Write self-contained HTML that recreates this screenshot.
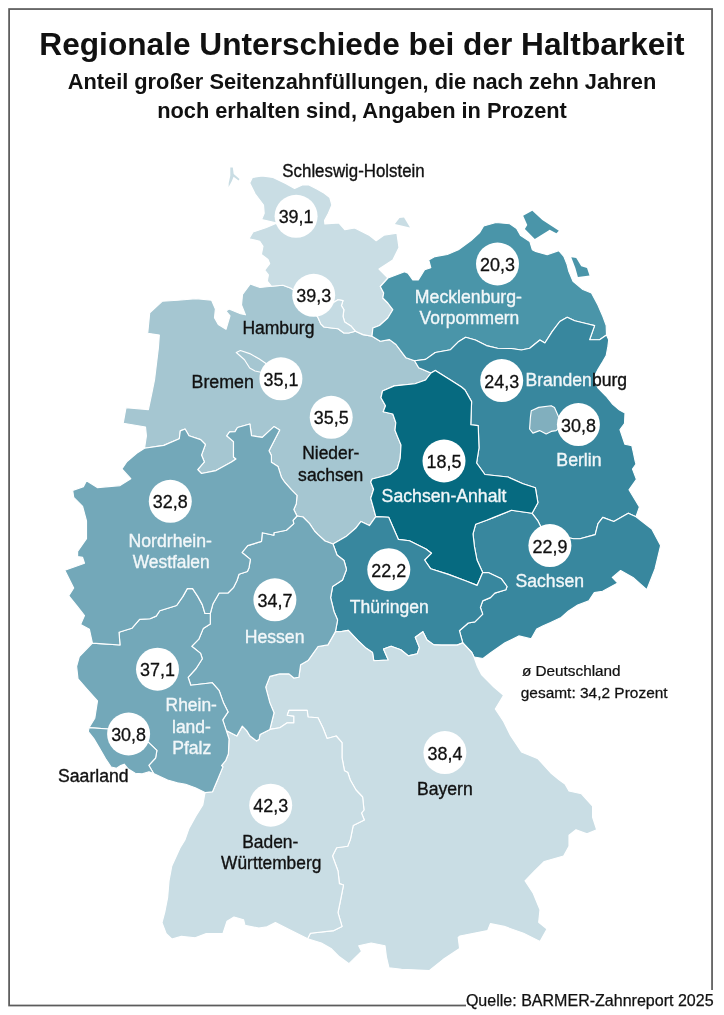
<!DOCTYPE html>
<html lang="de">
<head>
<meta charset="utf-8">
<title>Regionale Unterschiede bei der Haltbarkeit</title>
<style>
html,body{margin:0;padding:0;background:#fff;}
body{width:724px;height:1015px;position:relative;overflow:hidden;font-family:"Liberation Sans",Arial,sans-serif;color:#111;}
.frame{position:absolute;left:8.5px;top:8.5px;width:702.5px;height:996px;border:1.5px solid #505050;box-sizing:border-box;}
h1{position:absolute;left:0;top:25px;width:724px;margin:0;text-align:center;font-size:31.65px;line-height:38px;font-weight:bold;letter-spacing:0;white-space:nowrap;}
.sub{position:absolute;left:0;top:68.4px;width:724px;margin:0;text-align:center;font-size:21.8px;line-height:28.2px;font-weight:bold;white-space:nowrap;}
.src{-webkit-text-stroke:0.25px #111;position:absolute;right:7.4px;top:989.5px;height:25.5px;padding:0 3px 0 0;background:#fff;font-size:16.05px;line-height:20.6px;white-space:nowrap;}
</style>
</head>
<body>
<h1>Regionale Unterschiede bei der Haltbarkeit</h1>
<p class="sub">Anteil großer Seitenzahnfüllungen, die nach zehn Jahren<br>noch erhalten sind, Angaben in Prozent</p>
<svg width="724" height="1015" viewBox="0 0 724 1015" style="position:absolute;left:0;top:0">
<rect x="9.1" y="9.05" width="702.95" height="996.45" fill="none" stroke="#5c5c5c" stroke-width="1.75"/>
<g stroke="#ffffff" stroke-width="1.15" stroke-linejoin="round">
<polygon fill="#a5c6d1" points="144.5,448.3 146.4,435.8 145.5,427 123.2,423.2 126,407.7 148.4,409.6 152.2,391.3 154.5,380 158.4,347.7 159.3,335.1 147.7,333.2 149.7,312.9 162.2,301.3 177.7,300.3 196,298.6 211.6,300.3 215.4,309 214.5,317.7 218.3,324.5 226,329.3 230,315.8 226,311 229,309 240.6,313.8 245.4,314.8 241.5,305 242.5,294.5 250.3,283.9 260,287.5 271.5,286.3 282.9,285.2 291,288.3 295.3,291.4 312,308 318.2,318 320.7,323.8 324,327 331.4,328 338,328.8 343.9,333 348.8,333 355.5,331.3 363,334.6 372,336.2 380.3,341.2 389.5,339.6 396,344.5 406,357.8 414.6,360.8 418.7,367.7 431,373 425.6,380 415,383.7 394.3,385.9 382.5,391 381,397.7 385.5,405.8 383.2,411.8 392.8,414 395.8,422.8 395,430.2 397.3,436.1 401,445 400.2,458.3 397.3,468.6 389.9,474.5 372.2,479 370.7,481.9 373.6,489.3 370.7,498.2 373.6,508.5 375.8,516.6 369.4,525.6 361,521.4 355.6,528.3 346,536.6 333,544 325,541 317.8,534.4 314.5,531 309.6,523.6 303,517 297,516 293.8,509.5 296.3,503.7 297,495.4 291.3,489.6 284.7,482.2 281.4,477.2 278,466.4 271.4,462.3 271.4,455.6 269,450.7 279.7,430 273.9,426.6 262.3,437.4 251.5,435.7 249.9,424 237.5,427.5 235,431.6 229.6,431.9 226.7,435.8 233.5,441.6 233.5,457 236,459 231.5,461.9 216,470.6 201.5,473.5 197.7,469.6 204.4,461.9 201.5,455.1 205.4,444.5 200.6,439.6 189,435.8 185.1,429 180.3,430.9 179.3,438.7 163.8,445.4"/>
<polygon fill="#c9dde4" points="271.5,286.3 267.3,281 268.4,274.9 264.7,270.2 269.7,263.6 268,259.5 261.4,254.5 263,246.2 259.7,241.2 249,238.7 253,232 266.4,227.5 277,223 261.6,219.6 264.2,213.3 263.5,205 255.2,194 249.7,183 252.4,177.4 262.1,176 273.1,177.4 285.6,183.6 294.6,188.5 302.2,185 309,185 317.3,189.2 324.3,193.3 329.8,197.5 331.9,205 328.4,213.3 324.5,220.5 324.9,223.9 339,223 344.8,229.7 354.7,228 369.6,235.5 376.2,240.7 383.8,235.2 396.9,233.1 399,247.6 392.8,260 379,269 388,278 380.3,286.5 383.7,293 382.8,298 387.8,303 392.8,309.7 387.8,318 379.5,325.5 372.9,328 372,336.2 363,334.6 355.5,331.3 351.3,326.3 344.7,322 343,316.4 343.9,309.7 341.4,305.6 343,300.6 338,299.8 334,302.3 322,300 312,308 295.3,291.4 291,288.3 282.9,285.2"/>
<polygon fill="#c5dbe3" points="312,308 318.2,318 320.7,323.8 324,327 331.4,328 338,328.8 343.9,333 348.8,333 355.5,331.3 351.3,326.3 344.7,322 343,316.4 343.9,309.7 341.4,305.6 343,300.6 338,299.8 334,302.3 322,300"/>
<polygon fill="#4a95a9" points="388,278 404.5,271.8 408,273.2 412.8,280 418.3,280 424.6,269.7 430.8,267.7 428.7,260 434.9,256.6 447.3,254.5 458.4,249.7 471,240.5 479.4,232.9 483.6,226 496,222.5 509.8,223.8 516.6,228.5 520.7,235.6 529.8,241.4 532.3,249.7 535.6,251.4 547.2,254.7 558.8,250.6 563.8,256.4 567.1,264.6 568.8,271.3 573,281.2 582.9,289.5 591.5,293 597.9,304.9 602.9,316.5 606.2,325.6 606.5,335 599.6,339.7 589.6,339.7 594.6,325.6 588,324 574.7,320.7 567.2,317.3 559.8,321.5 552.3,331.4 544.9,343 539.9,340 529.7,348.3 521.4,350 511.3,348.5 497.5,348.3 486.4,345.6 475.4,340 465.7,337.3 458.8,341.4 450.5,349.7 435.3,352.5 425.6,359.4 414.6,360.8 406,357.8 396,344.5 389.5,339.6 380.3,341.2 372,336.2 372.9,328 379.5,325.5 387.8,318 392.8,309.7 387.8,303 382.8,298 383.7,293 380.3,286.5"/>
<polygon fill="#38879e" points="606.5,335 608.7,339.7 607.9,346.4 606.2,355.5 602.9,361.3 597.9,369.6 595.4,374.5 594.5,380 597.9,387.8 606,396 612.8,404.4 619.5,410 625,413 624.5,423.5 620,429.7 624.9,444.2 631.8,445.6 633.2,451.8 635.2,461.4 636,464.2 632.5,469 634.6,474.6 636.4,479.4 629,489.8 635.2,500 639.4,507 636,516.7 628.3,513.2 613.8,521.5 602.8,517.4 598,523.6 595.2,534.6 580,538.8 573.6,538.7 555,535 541.2,527.6 537.9,520.9 532.1,513.3 537.9,502.7 535.4,487.8 523,483.7 508,477 484.9,474.5 476.6,463 479,448 478.2,425.6 470.8,424.8 471.6,401.6 465,390 461.5,387 450.5,380 435.3,370.4 431,373 418.7,367.7 414.6,360.8 425.6,359.4 435.3,352.5 450.5,349.7 458.8,341.4 465.7,337.3 475.4,340 486.4,345.6 497.5,348.3 511.3,348.5 521.4,350 529.7,348.3 539.9,340 544.9,343 552.3,331.4 559.8,321.5 567.2,317.3 574.7,320.7 588,324 594.6,325.6 589.6,339.7 599.6,339.7"/>
<polygon fill="#38879e" points="636,516.7 651.8,529 660.6,545.6 655,569 646.8,589.8 633,577.4 620.6,570.5 612.3,577.4 617.8,583 602.6,591.2 594.3,592.6 588.8,600.9 577.7,605 568.5,611 561.2,617.5 550.6,622.5 543.2,625.7 536.7,629 531.2,638.7 518.8,635.9 505,642.8 491,652.5 483,658.5 474,657 471.8,652.5 462.8,642.9 459.4,630.7 468.3,623 474.9,621.9 482.7,614.1 480.4,607.5 482.7,600.9 490.4,597.6 494.8,593.1 505.9,589.8 507,586.5 501.4,578.8 488.2,572.6 482.7,572.6 477,560 474.4,546.3 473,533.9 475.7,524.2 486.6,520.3 493.2,517.6 511.4,510.2 532.1,513.3 537.9,520.9 541.2,527.6 555,535 573.6,538.7 580,538.8 595.2,534.6 598,523.6 602.8,517.4 613.8,521.5 628.3,513.2"/>
<polygon fill="#066a80" points="431,373 435.3,370.4 450.5,380 461.5,387 465,390 471.6,401.6 470.8,424.8 478.2,425.6 479,448 476.6,463 484.9,474.5 508,477 523,483.7 535.4,487.8 537.9,502.7 532.1,513.3 511.4,510.2 493.2,517.6 486.6,520.3 475.7,524.2 473,533.9 474.4,546.3 477,560 482.7,572.6 477.1,585.4 466.1,581 448.4,574.4 430.7,568.8 424.6,560 431.5,553.2 426,549 409.4,540.8 398.4,539.4 388.7,517.3 375.8,516.6 373.6,508.5 370.7,498.2 373.6,489.3 370.7,481.9 372.2,479 389.9,474.5 397.3,468.6 400.2,458.3 401,445 397.3,436.1 395,430.2 395.8,422.8 392.8,414 383.2,411.8 385.5,405.8 381,397.7 382.5,391 394.3,385.9 415,383.7 425.6,380"/>
<polygon fill="#38879e" points="375.8,516.6 388.7,517.3 398.4,539.4 409.4,540.8 426,549 431.5,553.2 424.6,560 430.7,568.8 448.4,574.4 466.1,581 477.1,585.4 482.7,572.6 488.2,572.6 501.4,578.8 507,586.5 505.9,589.8 494.8,593.1 490.4,597.6 482.7,600.9 480.4,607.5 482.7,614.1 474.9,621.9 468.3,623 459.4,630.7 462.8,642.9 457.2,645.1 441.8,645.1 433.9,644.9 427,640 422.9,631.7 415.3,637.3 419.4,647.6 417.3,653.8 408.4,655.9 400.8,649.7 391.1,646.2 383.5,649 388.3,660 373.8,660.7 372.5,652.5 366.2,648.3 358,640.7 348.3,630.4 340,631.7 335.4,631.6 337.6,620 334,611.5 330.6,597.7 332.6,586.6 342.5,580 346.5,569.5 344,560.5 337,555 333,544 346,536.6 355.6,528.3 361,521.4 369.4,525.6"/>
<polygon fill="#c9dde4" points="474,657 477.3,666.3 481.5,674.6 493.9,687 503.6,695.3 495.3,709 503.6,721.5 510.5,735.4 521.5,752 538,758.8 550.6,772.7 559.4,780 565,784 569,791 581.5,793.8 592.6,806.2 592.6,817.3 596.7,829.7 587,833.9 576,829.7 569,835.2 569,846.3 563.6,856 544.3,861.5 534.6,871 525,880.8 533.2,893.3 540,909.8 538.7,922.3 547,929 540,941.6 523.5,933.3 504.2,926.4 490.4,923.6 487.6,930.6 460,936 458.2,937.5 459.6,948.5 443,959.6 429.2,970.6 401.5,969.2 389,967.8 386.4,956.8 385,945.7 371.2,943 358.7,945.7 361.5,951.3 349,963.7 339.4,956.8 331,948.5 321.4,943 307.6,938.8 310.4,933.3 333.9,930.6 342,926.4 338,912.6 340.8,898.8 343.5,885 339.4,883.6 338,871 332.5,856 336.6,847.7 347.7,846.3 350.4,839.4 353.2,825.6 364.3,820 361.5,813 364,810 362.6,797 356,790 350.3,780 347.8,772.5 344.5,770.8 342,757.6 342,742.7 336.2,736 327.1,738.5 322.9,727.7 318,717.8 308,717 307.2,710.3 289,710.3 287.3,715.3 293.9,716.1 293.9,722.8 287.3,722.8 279.8,727.7 269.9,729.4 274,712.8 269.9,702.9 265.7,687.1 269.9,676.4 279.8,673.9 289,673.9 293.9,678 298.9,677.2 300.6,664.8 308,660.6 318,646.5 327.9,644.9 335.4,631.6 340,631.7 348.3,630.4 358,640.7 366.2,648.3 372.5,652.5 373.8,660.7 388.3,660 383.5,649 391.1,646.2 400.8,649.7 408.4,655.9 417.3,653.8 419.4,647.6 415.3,637.3 422.9,631.7 427,640 433.9,644.9 441.8,645.1 457.2,645.1 462.8,642.9 471.8,652.5"/>
<polygon fill="#c9dde4" points="307.6,938.8 305.7,937.8 289.2,929.5 275.4,922.6 267,926.7 258.8,928 245,925.4 243.6,919.8 234,917 227,921.2 222.9,933.6 206.3,933.6 195.2,937.8 181.4,936.4 171.8,939 166.2,933.6 162,922.6 164.9,911.5 167.6,897.7 169,881 171.8,866 180,848 184.9,840 189,828.4 195.9,816 202.8,804.9 205,792.6 212.5,791.8 218,778.7 222.9,766.9 221.5,765.6 225.6,760.7 228.4,753.8 229,739 226.3,730.6 236.9,735.9 242.3,726.1 246.7,730.6 250,736 256.6,741 259.1,739.3 260,734.4 269.9,729.4 279.8,727.7 287.3,722.8 293.9,722.8 293.9,716.1 287.3,715.3 289,710.3 307.2,710.3 308,717 318,717.8 322.9,727.7 327.1,738.5 336.2,736 342,742.7 342,757.6 344.5,770.8 347.8,772.5 350.3,780 356,790 362.6,797 364,810 361.5,813 364.3,820 353.2,825.6 350.4,839.4 347.7,846.3 336.6,847.7 332.5,856 338,871 339.4,883.6 343.5,885 340.8,898.8 338,912.6 342,926.4 333.9,930.6 310.4,933.3"/>
<polygon fill="#73a8b9" points="297,516 303,517 309.6,523.6 314.5,531 317.8,534.4 325,541 333,544 337,555 344,560.5 346.5,569.5 342.5,580 332.6,586.6 330.6,597.7 334,611.5 337.6,620 335.4,631.6 327.9,644.9 318,646.5 308,660.6 300.6,664.8 298.9,677.2 293.9,678 289,673.9 279.8,673.9 269.9,676.4 265.7,687.1 269.9,702.9 274,712.8 269.9,729.4 260,734.4 259.1,739.3 256.6,741 250,736 246.7,730.6 242.3,726.1 236.9,735.9 226.3,730.6 222.7,719.9 228.1,711.9 223.6,703.1 219.2,690.7 212.1,682.7 190.8,685.3 188.1,677.3 196.1,668.5 202.3,658.7 200.6,653.4 191.7,646.3 198.8,639.2 203.2,628.6 210.3,624.1 210.3,613.5 213,603.7 219.2,593 228,593 233.4,587.7 237,580.5 239,574.3 247.4,571.5 249,567.7 250.4,559.4 242,552.5 247.7,545.6 261.5,541.4 262.3,532.7 273.9,535.2 273.9,532.7 286.4,530.2 293.8,523.6 293,520.3"/>
<polygon fill="#73a8b9" points="89,727.6 94.8,718.2 97.5,701 87.6,689.8 78,678.8 76.6,666.4 79.3,656.7 92.4,643.1 120,645 119,632.2 131.8,628.3 139.6,619.4 150,618.8 156.2,616.1 159.8,610.8 176.6,605.5 182.8,596.6 187.3,588.6 192.6,588.6 197.9,596.6 202.3,604.6 205,613.5 210.3,613.5 210.3,624.1 203.2,628.6 198.8,639.2 191.7,646.3 200.6,653.4 202.3,658.7 196.1,668.5 188.1,677.3 190.8,685.3 212.1,682.7 219.2,690.7 223.6,703.1 228.1,711.9 222.7,719.9 226.3,730.6 229,739 228.4,753.8 225.6,760.7 221.5,765.6 222.9,766.9 218,778.7 212.5,791.8 205,792.6 195.2,787.7 185.6,784.2 177.3,782.8 167.6,780 160,776.6 153.6,773.5 148.8,765.3 155.6,758 156.9,750.4 149,742.8 130,731 108.3,729"/>
<polygon fill="#73a8b9" points="153.6,773.5 149,771.8 142.2,773.9 135.2,773.2 128.3,769 124.2,764.2 120.7,765.6 116.6,768.3 111.1,767 105.6,758.7 100,749 93.8,738.6 88.3,731.7 89,727.6 108.3,729 130,731 149,742.8 156.9,750.4 155.6,758 148.8,765.3"/>
<polygon fill="#73a8b9" points="92.4,643.1 89.4,629.3 80.6,624.4 84.5,615.5 76.7,605.7 68.8,595.8 73.7,588 64.8,570.2 84.5,563.3 82.6,557.4 77.6,556.5 77.6,551.5 86.5,538.7 86.5,521 82.6,506.3 73.7,497.4 72.7,490.5 83.5,486.6 86.5,480.7 97.3,487.6 120,485.6 130.8,478.7 121.9,468.9 127,461.5 136.7,453.2 144.5,448.3 163.8,445.4 179.3,438.7 180.3,430.9 185.1,429 189,435.8 200.6,439.6 205.4,444.5 201.5,455.1 204.4,461.9 197.7,469.6 201.5,473.5 216,470.6 231.5,461.9 236,459 233.5,457 233.5,441.6 226.7,435.8 229.6,431.9 235,431.6 237.5,427.5 249.9,424 251.5,435.7 262.3,437.4 273.9,426.6 279.7,430 269,450.7 271.4,455.6 271.4,462.3 278,466.4 281.4,477.2 284.7,482.2 291.3,489.6 297,495.4 296.3,503.7 293.8,509.5 297,516 293,520.3 293.8,523.6 286.4,530.2 273.9,532.7 273.9,535.2 262.3,532.7 261.5,541.4 247.7,545.6 242,552.5 250.4,559.4 249,567.7 247.4,571.5 239,574.3 237,580.5 233.4,587.7 228,593 219.2,593 213,603.7 210.3,613.5 205,613.5 202.3,604.6 197.9,596.6 192.6,588.6 187.3,588.6 182.8,596.6 176.6,605.5 159.8,610.8 156.2,616.1 150,618.8 139.6,619.4 131.8,628.3 119,632.2 120,645"/>
<polygon fill="#81afbe" points="531.3,410.7 538.7,407.4 551.2,405.7 554.5,407.4 557.8,414.9 562,425 556.1,430.6 551.2,431.4 546.2,433.9 539.6,430.6 532.9,433.1 529.6,429 530.4,417.3"/>
<polygon fill="#a5c6d1" points="236.3,352.5 240.4,350.5 249.7,353.6 259,358.8 265.3,363 272,370 262,372.5 255,371 249.7,368 244.5,359.8"/>
<polygon fill="#c9dde4" stroke="none" points="230.3,167.4 232.8,167.4 233.7,174 239.5,179 238.6,180.4 233.6,176.8 231.6,181.5 228.6,186.9 228.7,183.2 230.3,175.7"/>
<polygon fill="#c9dde4" stroke="none" points="394.9,224.1 399.5,218 404,217.5 410,227.6"/>
<polygon fill="#4a95a9" stroke="none" points="523.2,215.7 532.3,210.8 542.3,219.9 558.8,230.7 556.4,233.2 549.7,229.8 534.8,239 524.9,229 527.3,224.9"/>
<polygon fill="#4a95a9" stroke="none" points="571.3,257.2 576.2,258 581.2,266.3 587,268 589.5,275.4 577.9,277.1 575.4,268"/>
</g>
<g fill="#ffffff">
<circle cx="296.1" cy="216.3" r="21.5"/>
<circle cx="313.7" cy="295.3" r="21.5"/>
<circle cx="497.5" cy="264" r="21.5"/>
<circle cx="501.7" cy="380.6" r="21.5"/>
<circle cx="578.4" cy="424.6" r="21.5"/>
<circle cx="444" cy="461" r="21.5"/>
<circle cx="549.9" cy="545.6" r="21.5"/>
<circle cx="388.8" cy="569.7" r="21.5"/>
<circle cx="280.9" cy="378.8" r="21.5"/>
<circle cx="331.2" cy="417.3" r="21.5"/>
<circle cx="170.3" cy="501.3" r="21.5"/>
<circle cx="274.9" cy="599.8" r="21.5"/>
<circle cx="157.5" cy="669.2" r="21.5"/>
<circle cx="128.6" cy="734" r="21.5"/>
<circle cx="270.7" cy="805.2" r="21.5"/>
<circle cx="444.9" cy="752.6" r="21.5"/>
</g>
<g font-family="'Liberation Sans', Arial, sans-serif" font-size="18.8" fill="#111" stroke="#111" stroke-width="0.3" text-anchor="middle">
<text transform="translate(296.1,223.2) scale(0.955,1)">39,1</text>
<text transform="translate(313.7,302.2) scale(0.955,1)">39,3</text>
<text transform="translate(497.5,270.9) scale(0.955,1)">20,3</text>
<text transform="translate(501.7,387.5) scale(0.955,1)">24,3</text>
<text transform="translate(578.4,431.5) scale(0.955,1)">30,8</text>
<text transform="translate(444,467.9) scale(0.955,1)">18,5</text>
<text transform="translate(549.9,552.5) scale(0.955,1)">22,9</text>
<text transform="translate(388.8,576.6) scale(0.955,1)">22,2</text>
<text transform="translate(280.9,385.7) scale(0.955,1)">35,1</text>
<text transform="translate(331.2,424.2) scale(0.955,1)">35,5</text>
<text transform="translate(170.3,508.2) scale(0.955,1)">32,8</text>
<text transform="translate(274.9,606.7) scale(0.955,1)">34,7</text>
<text transform="translate(157.5,676.1) scale(0.955,1)">37,1</text>
<text transform="translate(128.6,740.9) scale(0.955,1)">30,8</text>
<text transform="translate(270.7,812.1) scale(0.955,1)">42,3</text>
<text transform="translate(444.9,759.5) scale(0.955,1)">38,4</text>
</g>
<g font-family="'Liberation Sans', Arial, sans-serif" font-size="17.6">
<text transform="translate(282.36,177.1) scale(0.9575,1)" fill="#111" stroke="#111" stroke-width="0.35">Schleswig-Holstein</text>
<text transform="translate(242.38,333.6) scale(0.9963,1)" fill="#111" stroke="#111" stroke-width="0.35">Hamburg</text>
<text transform="translate(191.56,388) scale(1.0126,1)" fill="#111" stroke="#111" stroke-width="0.35">Bremen</text>
<text transform="translate(414.87,302.8) scale(1.0055,1)" fill="#f2f7f9" stroke="#f2f7f9" stroke-width="0.35">Mecklenburg-</text>
<text transform="translate(419.60,324.3) scale(0.9905,1)" fill="#f2f7f9" stroke="#f2f7f9" stroke-width="0.35">Vorpommern</text>
<text transform="translate(556.37,466.4) scale(1.0052,1)" fill="#f2f7f9" stroke="#f2f7f9" stroke-width="0.35">Berlin</text>
<text transform="translate(381.62,502.2) scale(1.0049,1)" fill="#f2f7f9" stroke="#f2f7f9" stroke-width="0.35">Sachsen-Anhalt</text>
<text transform="translate(515.52,587.1) scale(1.0009,1)" fill="#f2f7f9" stroke="#f2f7f9" stroke-width="0.35">Sachsen</text>
<text transform="translate(349.76,612.6) scale(0.9969,1)" fill="#f2f7f9" stroke="#f2f7f9" stroke-width="0.35">Thüringen</text>
<text transform="translate(302.19,459.3) scale(0.9903,1)" fill="#111" stroke="#111" stroke-width="0.35">Nieder-</text>
<text transform="translate(298.12,480.7) scale(0.9959,1)" fill="#111" stroke="#111" stroke-width="0.35">sachsen</text>
<text transform="translate(128.58,546.6) scale(1.0030,1)" fill="#f2f7f9" stroke="#f2f7f9" stroke-width="0.35">Nordrhein-</text>
<text transform="translate(132.70,567.5) scale(0.9883,1)" fill="#f2f7f9" stroke="#f2f7f9" stroke-width="0.35">Westfalen</text>
<text transform="translate(244.68,643.4) scale(1.0035,1)" fill="#f2f7f9" stroke="#f2f7f9" stroke-width="0.35">Hessen</text>
<text transform="translate(165.59,711.3) scale(0.9895,1)" fill="#f2f7f9" stroke="#f2f7f9" stroke-width="0.35">Rhein-</text>
<text transform="translate(171.99,732.9) scale(0.9957,1)" fill="#f2f7f9" stroke="#f2f7f9" stroke-width="0.35">land-</text>
<text transform="translate(172.18,753.7) scale(1.0011,1)" fill="#f2f7f9" stroke="#f2f7f9" stroke-width="0.35">Pfalz</text>
<text transform="translate(58.02,782.1) scale(1.0029,1)" fill="#111" stroke="#111" stroke-width="0.35">Saarland</text>
<text transform="translate(242.19,847.6) scale(0.9897,1)" fill="#111" stroke="#111" stroke-width="0.35">Baden-</text>
<text transform="translate(221.10,868.6) scale(0.9855,1)" fill="#111" stroke="#111" stroke-width="0.35">Württemberg</text>
<text transform="translate(416.98,794.6) scale(0.9992,1)" fill="#111" stroke="#111" stroke-width="0.35">Bayern</text>
<text transform="translate(525.48,386.2) scale(0.9986,1)"><tspan fill="#f2f7f9" stroke="#f2f7f9" stroke-width="0.35">Branden</tspan><tspan fill="#111" stroke="#111" stroke-width="0.35">burg</tspan></text>
</g>
<g font-family="'Liberation Sans', Arial, sans-serif" font-size="15.3" fill="#111" stroke="#111" stroke-width="0.25">
<text transform="translate(521.93,675.6) scale(1.0013,1)">ø Deutschland</text>
<text transform="translate(520.73,697.6) scale(1.0105,1)">gesamt: 34,2 Prozent</text>
</g>
</svg>
<div class="src">Quelle: BARMER-Zahnreport 2025</div>
</body>
</html>
